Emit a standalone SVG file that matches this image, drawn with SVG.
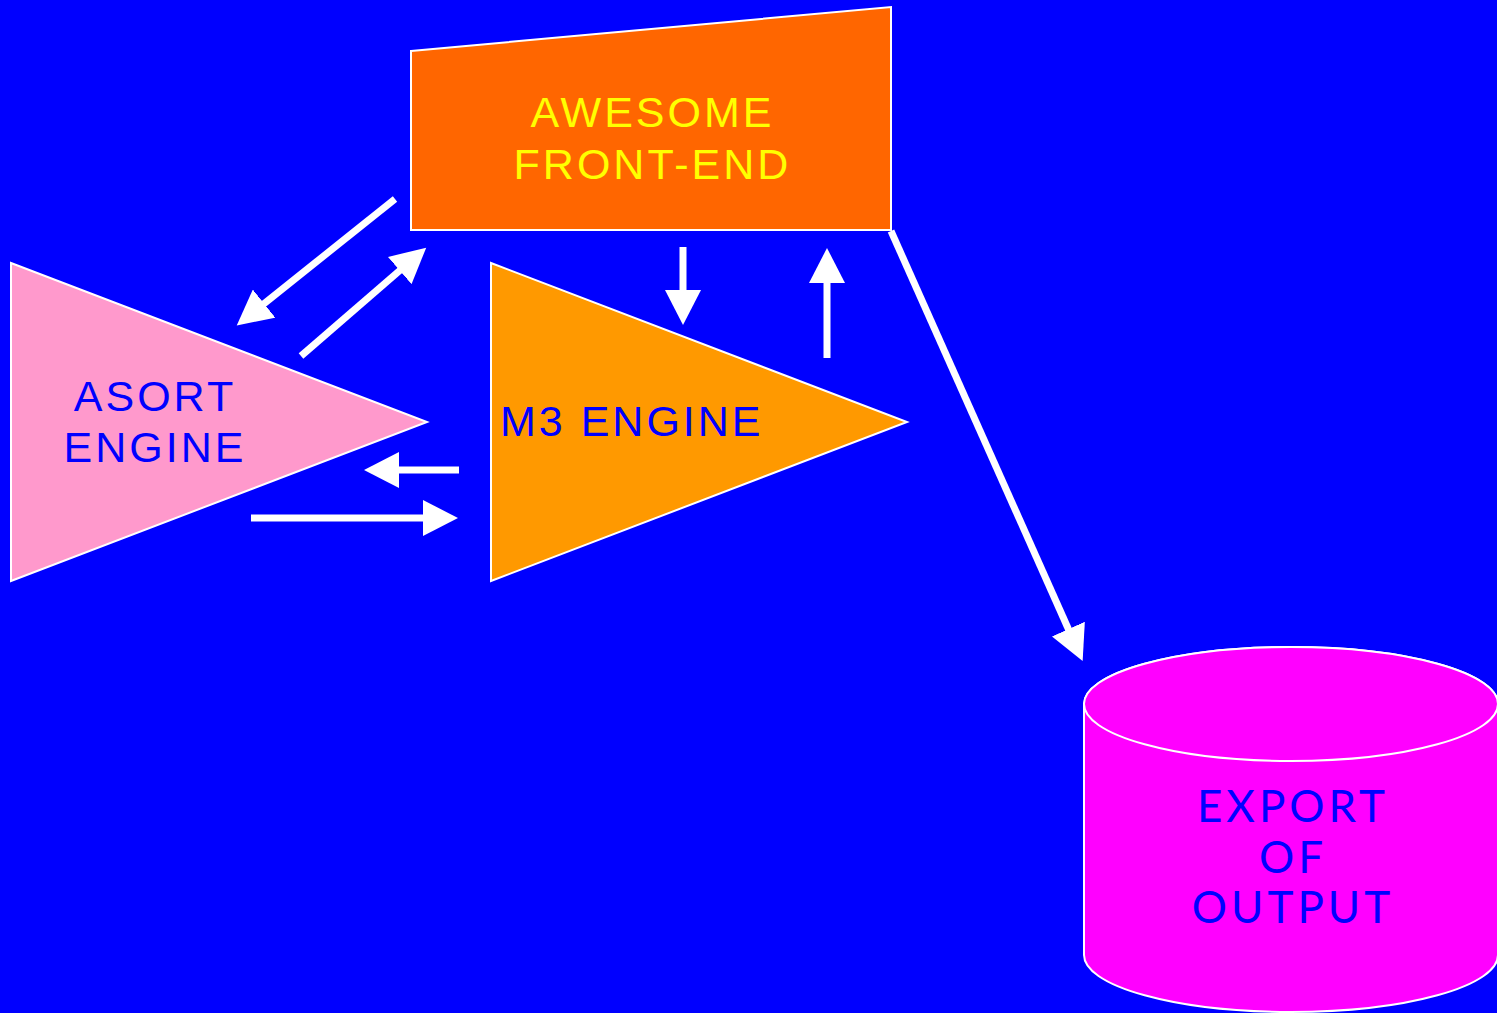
<svg xmlns="http://www.w3.org/2000/svg" width="1497" height="1013" viewBox="0 0 1497 1013">
  <defs>
    <marker id="head" markerUnits="userSpaceOnUse" markerWidth="36" markerHeight="36" viewBox="0 -18 36 36" refX="1" refY="0" orient="auto">
      <path d="M0,-18 L35,0 L0,18 Z" fill="#FFFFFF"/>
    </marker>
    <style>
      .shape { stroke: #FFFFFF; stroke-width: 2; }
      .lbl { font-family: "Liberation Sans", Arial, sans-serif; font-size: 43px; text-anchor: middle; letter-spacing: 3px; }
      .lato { font-family: Lato, "Liberation Sans", sans-serif; font-size: 44px; text-anchor: middle; letter-spacing: 4px; }
      .wire { stroke: #FFFFFF; stroke-width: 7; fill: none; marker-end: url(#head); }
    </style>
  </defs>

  <rect x="0" y="0" width="1497" height="1013" fill="#0000FF"/>

  <g id="front-end">
    <polygon class="shape" points="411,51 891,7 891,230 411,230" fill="#FF6600"/>
    <text class="lbl" x="652.5" y="127" fill="#FFFF00">AWESOME</text>
    <text class="lbl" x="652.5" y="179" fill="#FFFF00">FRONT-END</text>
  </g>

  <g id="asort-engine">
    <polygon class="shape" points="11,263 427,422 11,581" fill="#FF99CC"/>
    <text class="lbl" x="155" y="411" fill="#0000FF">ASORT</text>
    <text class="lbl" x="155" y="462" fill="#0000FF">ENGINE</text>
  </g>

  <g id="m3-engine">
    <polygon class="shape" points="491,263 907,422 491,581" fill="#FF9900"/>
    <text class="lbl" x="500" y="436" fill="#0000FF" style="text-anchor:start">M3 ENGINE</text>
  </g>

  <g id="export">
    <path class="shape" d="M1084,704 L1084,955 A207,57 0 0 0 1498,955 L1498,704 A207,57 0 0 0 1084,704 Z" fill="#FF00FF"/>
    <ellipse class="shape" cx="1291" cy="704" rx="207" ry="57" fill="#FF00FF"/>
    <text class="lato" x="1293" y="822" fill="#0000FF">EXPORT</text>
    <text class="lato" x="1293" y="873" fill="#0000FF">OF</text>
    <text class="lato" x="1293" y="923" fill="#0000FF">OUTPUT</text>
  </g>

  <g id="connectors">
    <line class="wire" x1="395" y1="199" x2="263.3" y2="304.2"/>
    <line class="wire" x1="301" y1="356" x2="400.5" y2="269.9"/>
    <line class="wire" x1="683" y1="247" x2="683" y2="291"/>
    <line class="wire" x1="827" y1="358" x2="827" y2="282"/>
    <line class="wire" x1="459" y1="470" x2="398" y2="470"/>
    <line class="wire" x1="251" y1="518" x2="424" y2="518"/>
    <line class="wire" x1="891" y1="231" x2="1068.8" y2="630"/>
  </g>
</svg>
